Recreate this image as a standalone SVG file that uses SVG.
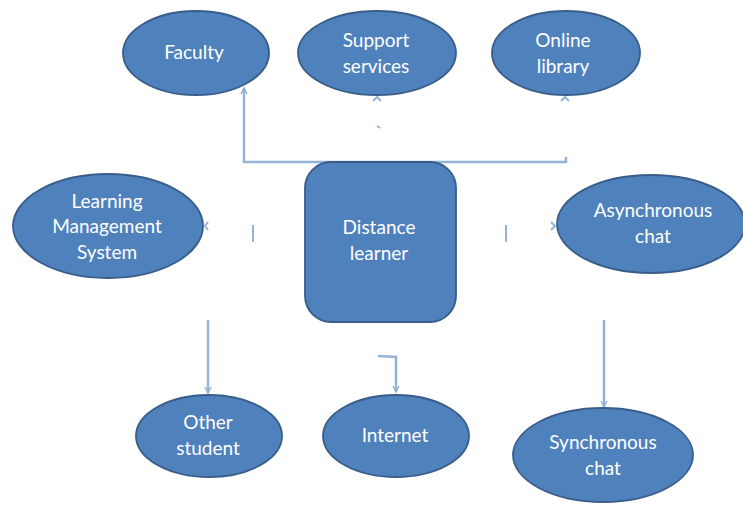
<svg xmlns="http://www.w3.org/2000/svg" width="743" height="505" viewBox="0 0 743 505">
<style>
.node{fill:#4F81BD;stroke:#385D8A;stroke-width:1.8}
.lbl{fill:#FFFFFF;font-family:Lato,"Liberation Sans",Arial,sans-serif;font-size:19px;text-anchor:middle}
.con{fill:none;stroke:#95B3D7;stroke-width:2.5}
.tick{fill:none;stroke:#95B3D7;stroke-width:2}
</style>
<defs>
<marker id="arr" viewBox="0 0 10 10" refX="9" refY="5" markerWidth="3" markerHeight="3" orient="auto" markerUnits="strokeWidth">
<path d="M1 1 L9 5 L1 9" fill="none" stroke="#95B3D7" stroke-width="2"/>
</marker>
</defs>
<rect width="743" height="505" fill="#FFFFFF"/>
<g id="connectors">
<path class="con" d="M566 157 L566 162 L244 162 L244 88" marker-end="url(#arr)"/>
<path class="tick" d="M373 101 L377 97 L381 101"/>
<path class="tick" d="M377 126 L380 128"/>
<path class="tick" d="M561 101 L565 97 L569 101"/>
<path class="tick" d="M208 222 L205 226 L208 230"/>
<path class="tick" d="M253 225 L253 242"/>
<path class="tick" d="M506 225 L506 242"/>
<path class="tick" d="M551 222 L555 226 L551 230"/>
<path class="con" d="M208 320 L208 393" marker-end="url(#arr)"/>
<path class="con" d="M378 356 L396 357 L396 392" marker-end="url(#arr)"/>
<path class="con" d="M604 320 L604 407" marker-end="url(#arr)"/>
</g>
<g id="faculty">
<ellipse class="node" cx="196" cy="53" rx="73" ry="42"/>
<text class="lbl" x="194" y="59">Faculty</text>
</g>
<g id="support">
<ellipse class="node" cx="377" cy="53" rx="79" ry="42"/>
<text class="lbl" x="376" y="47">Support</text>
<text class="lbl" x="376" y="73">services</text>
</g>
<g id="library">
<ellipse class="node" cx="566" cy="53" rx="74" ry="42"/>
<text class="lbl" x="563" y="47">Online</text>
<text class="lbl" x="563" y="73">library</text>
</g>
<g id="lms">
<ellipse class="node" cx="108" cy="226" rx="95" ry="52"/>
<text class="lbl" x="107" y="208">Learning</text>
<text class="lbl" x="107" y="233">Management</text>
<text class="lbl" x="107" y="259">System</text>
</g>
<g id="learner">
<rect class="node" x="305" y="162" width="151" height="160" rx="26" ry="26"/>
<text class="lbl" x="379" y="234">Distance</text>
<text class="lbl" x="379" y="260">learner</text>
</g>
<g id="async">
<ellipse class="node" cx="651" cy="224" rx="94" ry="49"/>
<text class="lbl" x="653" y="217">Asynchronous</text>
<text class="lbl" x="653" y="243">chat</text>
</g>
<g id="other">
<ellipse class="node" cx="209" cy="436" rx="73" ry="41"/>
<text class="lbl" x="208" y="429">Other</text>
<text class="lbl" x="208" y="455">student</text>
</g>
<g id="internet">
<ellipse class="node" cx="396" cy="436" rx="73" ry="41"/>
<text class="lbl" x="395" y="442">Internet</text>
</g>
<g id="sync">
<ellipse class="node" cx="603" cy="455" rx="90" ry="47"/>
<text class="lbl" x="603" y="449">Synchronous</text>
<text class="lbl" x="603" y="475">chat</text>
</g>
</svg>
